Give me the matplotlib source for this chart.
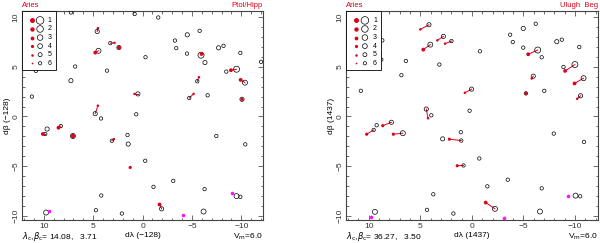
import matplotlib
matplotlib.use("Agg")
import matplotlib.pyplot as plt
from matplotlib.ticker import MultipleLocator
from matplotlib.patches import Rectangle

plt.rcParams["font.family"] = ["Liberation Sans", "DejaVu Sans"]

RED = "#e0001a"
MAG = "#ff10ff"

# ---- left panel: Ptol/Hipp ----
L_cx = [7.25, 0.8, 4.59, 3.26, 2.39, 4.46, -0.3, 6.82, 10.8, 3.6, 7.25, 11.2, 0.47, 4.79, 4.2, 0.64,
        -1.59, -5.78, -4.53, -3.28, -3.41, -4.5, -5.92, -7.7, -8.2, -9.9, -6.32, -12.0, -9.52, -8.48,
        -10.37, -5.54, -4.73, -6.59, -10.07, 9.66, 9.85, 8.27, 7.05, 3.1, 1.52, 1.45, -0.27, 4.18,
        4.72, 2.09, 9.76, -7.47, -10.4, -1.11, -3.11, -6.28, -9.52, -9.9, -1.93, -6.18]
L_cy = [10.45, 10.3, 8.54, 7.37, 6.93, 6.6, 5.96, 5.02, 4.58, 4.61, 3.6, 2.0, 2.27, 0.28, -0.2, 0.22,
        9.95, 8.61, 8.21, 7.63, 6.87, 6.32, 6.16, 6.9, 7.1, 6.39, 5.42, 5.49, 4.75, 4.51,
        3.4, 3.54, 1.86, 2.13, 1.73, -1.26, -1.76, -0.96, -1.96, -2.44, -1.86, -2.77, -4.45, -7.94,
        -9.42, -9.75, -9.65, -1.96, -2.8, -7.07, -6.47, -7.3, -8.0, -8.07, -9.28, -9.55]
L_cm = [5, 5, 4, 5, 4, 3, 5, 5, 5, 5, 4, 5, 4, 4, 5, 5,
        5, 5, 4, 5, 5, 5, 2, 4, 5, 5, 4, 5, 2, 5,
        3, 5, 5, 5, 4, 4, 5, 5, 3, 5, 5, 4, 5, 5,
        5, 5, 3, 5, 5, 5, 5, 5, 3, 5, 4, 3]

L_rx = [4.52, 2.84, 2.39, 4.79, -5.98, 0.81, 4.52, -8.95, -9.93, -5.71, -5.17, -10.07, 10.09, 8.51,
        7.05, 2.9, 1.25, -1.72]
L_ry = [8.88, 7.4, 6.93, 6.42, 6.29, 2.27, 1.09, 4.65, 3.68, 3.95, 2.27, 1.73, -1.76, -1.13,
        -1.96, -2.27, -5.12, -8.84]
L_rm = [5, 5, 3, 3, 3, 5, 5, 3, 3, 5, 5, 4, 3, 3, 2, 5, 4, 3]
L_tx = [4.59, 3.26, 2.39, 4.46, -5.92, 0.47, 4.79, -9.52, -10.37, -5.54, -4.73, -10.07, 9.85, 8.27,
        7.05, 3.1, 1.25, -1.93]
L_ty = [8.54, 7.37, 6.93, 6.6, 6.16, 2.27, 0.28, 4.75, 3.4, 3.54, 1.86, 1.73, -1.76, -0.96,
        -1.96, -2.44, -5.12, -9.28]

L_mx = [9.45, -9.02, -4.05]
L_my = [-9.52, -7.73, -9.92]

# ---- right panel: Ulugh Beg ----
R_cx = [8.68, 8.78, 6.4, 6.83, 10.76, 3.15, 4.16, 2.76, 1.98, 4.03, 4.42, 3.93, -6.19, -4.98, -3.71,
        -3.97, -0.78, -4.98, -6.38, -6.77, -8.23, -8.72, -10.41, -9.99, -8.88, -10.83, -5.95, 0.03,
        -5.24, -7.02, -10.54, 0.22, 9.52, 9.23, 7.8, 6.69, 2.83, 1.03, 3.74, 4.35, 9.4, 1.07, 0.81,
        -0.72, -3.48, -1.5, -6.77, -7.94, -10.87, -10.05, -10.5, -2.24, -6.6, 1.79]
R_cy = [7.65, 5.72, 5.58, 4.15, 2.58, 5.22, 9.22, 8.05, 7.58, 7.22, 0.75, 0.12, 9.32, 8.85, 8.22,
        7.48, 6.55, 6.92, 6.68, 5.95, 7.52, 7.72, 6.98, 5.22, 4.98, 3.85, 4.05, 2.75,
        2.32, 2.58, 2.08, 0.58, -1.35, -0.88, -0.58, -1.68, -2.25, -2.42, -7.82, -9.38, -9.58, -1.58, -4.92,
        -4.22, -6.35, -7.02, -7.22, -1.72, -2.55, -7.95, -8.02, -9.28, -9.55, -9.75]
R_cm = [5, 5, 5, 5, 5, 5, 4, 4, 5, 3, 4, 5, 5, 4, 5,
        5, 5, 5, 2, 5, 4, 5, 5, 2, 5, 3, 4, 4,
        5, 5, 4, 5, 5, 5, 4, 3, 4, 5, 5, 5, 3, 5, 5,
        5, 5, 5, 5, 5, 5, 3, 5, 3, 3, 5]

R_rx = [5.0, 3.35, 2.6, 4.71, 4.25, -5.46, -9.04, -9.95, -5.8, 0.68, -5.24, -10.21, 10.2, 8.64,
        7.61, 2.18, 1.42, -1.34]
R_ry = [8.75, 7.65, 7.32, 6.72, -0.18, 6.25, 4.58, 3.32, 3.82, 2.38, 2.32, 1.78, -1.78, -0.92,
        -1.78, -2.28, -4.95, -8.65]
R_rm = [5, 5, 5, 3, 5, 3, 3, 3, 5, 5, 4, 5, 4, 4, 4, 4, 4, 3]
R_tx = [4.16, 2.76, 1.98, 4.03, 4.42, -6.38, -9.99, -10.83, -5.95, 0.03, -5.24, -10.54, 9.52, 7.8,
        6.69, 1.03, 0.81, -2.24]
R_ty = [9.22, 8.05, 7.58, 7.22, 0.75, 6.68, 5.22, 3.85, 4.05, 2.75, 2.32, 2.08, -1.35, -0.58,
        -1.68, -2.42, -4.92, -9.28]

R_mx = [9.81, -9.31, -3.12]
R_my = [-10.05, -8.02, -10.2]

mags = [1, 2, 3, 4, 5, 6]
circ_d = {1: 7.0, 2: 6.0, 3: 5.0, 4: 4.2, 5: 3.4, 6: 2.7}   # px diameters
dot_d = {1: 5.0, 2: 4.4, 3: 3.8, 4: 3.2, 5: 2.5, 6: 1.7}


def s_of(d):
    return (d * 0.72) ** 2


def panel(ax, cx, cy, cm, rx, ry, rm, tx, ty, mx, my, src, lc, lab):
    for x0, y0, x1, y1 in zip(rx, ry, tx, ty):
        ax.plot([x0, x1], [y0, y1], color=RED, lw=0.7, zorder=2)
    ax.scatter(cx, cy, s=[s_of(circ_d[m]) for m in cm], facecolors="none",
               edgecolors="black", linewidths=0.5, zorder=3)
    ax.scatter(rx, ry, s=[s_of(dot_d[m]) for m in rm], color=RED, lw=0, zorder=4)
    ax.scatter(mx, my, s=s_of(3.6), color=MAG, lw=0, zorder=4)

    ax.set_xlim(12.2, -12.2)
    ax.set_ylim(-10.4, 10.6)
    ax.xaxis.set_major_locator(MultipleLocator(5))
    ax.yaxis.set_major_locator(MultipleLocator(5))
    ax.xaxis.set_minor_locator(MultipleLocator(1))
    ax.yaxis.set_minor_locator(MultipleLocator(1))
    ax.tick_params(which="both", direction="in", top=True, right=True, width=0.5,
                   labelsize=6, pad=2, colors="#333333")
    ax.tick_params(which="major", length=3.5)
    ax.tick_params(which="minor", length=1.8)
    for lbl in ax.get_yticklabels():
        lbl.set_rotation(90)
        lbl.set_va("center")
    for sp in ax.spines.values():
        sp.set_linewidth(0.8)
        sp.set_color("#444444")

    ax.set_xlabel("d\u03bb (%s)" % lab, fontsize=6, labelpad=1.5)
    ax.set_ylabel("d\u03b2 (%s)" % lab, fontsize=6, labelpad=1)
    ax.text(0, 1.012, "Aries", color=RED, fontsize=5.5, transform=ax.transAxes, ha="left", va="bottom")
    ax.text(1, 1.012, src, color=RED, fontsize=5.5, transform=ax.transAxes, ha="right", va="bottom")
    ax.text(0, -0.08, lc, fontsize=6, transform=ax.transAxes, ha="left", va="center")
    ax.text(1, -0.08, r"V$_{\rm m}$=6.0", fontsize=6, transform=ax.transAxes, ha="right", va="center")

    # magnitude key
    w = 0.14
    ax.add_patch(Rectangle((0, 0.72), w, 0.28, transform=ax.transAxes, fill=True,
                           facecolor="white", edgecolor="black", lw=0.6, zorder=5))
    for i, m in enumerate(mags):
        yy = 0.955 - i * 0.041
        ax.scatter([0.04], [yy], s=s_of(dot_d[m]), color=RED, lw=0, transform=ax.transAxes, zorder=6)
        ax.scatter([0.075], [yy], s=s_of(circ_d[m] + 0.6), facecolors="none", edgecolors="black",
                   linewidths=0.5, transform=ax.transAxes, zorder=6)
        ax.text(0.115, yy, str(m), fontsize=5, transform=ax.transAxes, ha="center", va="center", zorder=6)


fig = plt.figure(figsize=(6.0, 2.43), dpi=100)
ax1 = fig.add_axes([0.0367, 0.0947, 0.4017, 0.86])
ax2 = fig.add_axes([0.5767, 0.0947, 0.4195, 0.86])

panel(ax1, L_cx, L_cy, L_cm, L_rx, L_ry, L_rm, L_tx, L_ty, L_mx, L_my,
      "Ptol/Hipp", r"$\lambda_{\rm c}$,$\beta_{\rm c}$= 14.08,   3.71", "\u2212128")
panel(ax2, R_cx, R_cy, R_cm, R_rx, R_ry, R_rm, R_tx, R_ty, R_mx, R_my,
      "Ulugh  Beg", r"$\lambda_{\rm c}$,$\beta_{\rm c}$= 36.27,   3.50", "1437")

fig.savefig("out.png", dpi=100)
